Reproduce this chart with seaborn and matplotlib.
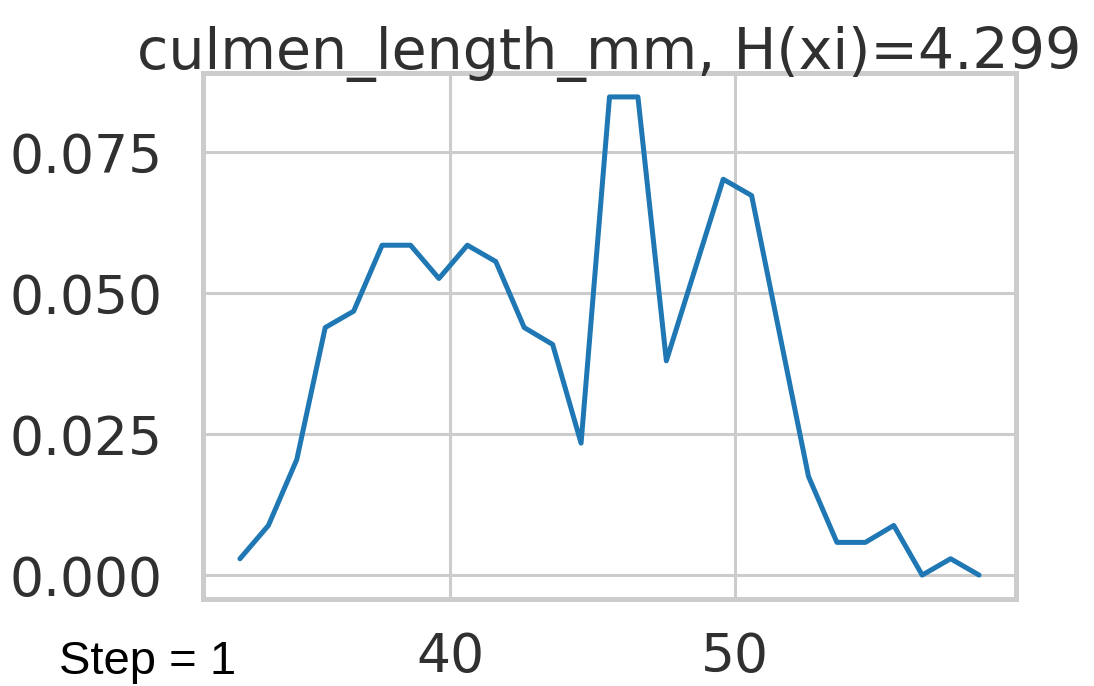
import matplotlib
matplotlib.use("Agg")
import matplotlib.pyplot as plt
import seaborn as sns
import pandas as pd

# bin centres (step = 1) and relative frequency
bin_centers = [32.6, 33.6, 34.6, 35.6, 36.6, 37.6, 38.6, 39.6, 40.6, 41.6,
               42.6, 43.6, 44.6, 45.6, 46.6, 47.6, 48.6, 49.6, 50.6, 51.6,
               52.6, 53.6, 54.6, 55.6, 56.6, 57.6, 58.6]
frequency = [0.0029, 0.0088, 0.0205, 0.0439, 0.0468, 0.0585, 0.0585, 0.0526,
             0.0585, 0.0556, 0.0439, 0.0409, 0.0234, 0.0848, 0.0848, 0.0380,
             0.0541, 0.0702, 0.0673, 0.0424, 0.0175, 0.0058, 0.0058, 0.0088,
             0.0000, 0.0029, 0.0000]
title_text = "culmen_length_mm, H(xi)=4.299"
note_text = "Step = 1"
x_ticks = [40, 50]
y_ticks = [0.000, 0.025, 0.050, 0.075]

df = pd.DataFrame({"x": bin_centers, "p": frequency})

sns.set_theme(style="whitegrid")
plt.rcParams['font.family'] = ['DejaVu Sans']

fig = plt.figure(figsize=(10.94, 6.86), dpi=100)
ax = fig.add_axes([203/1094, 1 - 599/686, (1016-203)/1094, (599-73)/686])

sns.lineplot(data=df, x="x", y="p", ax=ax, color="#1f77b4", linewidth=3.6)

ax.set_xticks(x_ticks)
ax.set_yticks(y_ticks)
ax.set_yticklabels([f"{v:.3f}" for v in y_ticks])
ax.set_xlabel("")
ax.set_ylabel("")
ax.tick_params(axis="both", labelsize=38.5, colors="#303030", length=0)
ax.tick_params(axis="x", pad=23)
ax.tick_params(axis="y", pad=29)
ax.grid(True, color="#cccccc", linewidth=2.2)
for s in ax.spines.values():
    s.set_color("#cccccc")
    s.set_linewidth(3.6)
ax.set_title(title_text, fontsize=41, color="#303030", pad=3)

fig.text(59/1094, 1 - 662/686, note_text, fontsize=34, color="black",
         family=["Liberation Sans", "DejaVu Sans"], va="center", ha="left")

fig.savefig("out.png", dpi=100)
